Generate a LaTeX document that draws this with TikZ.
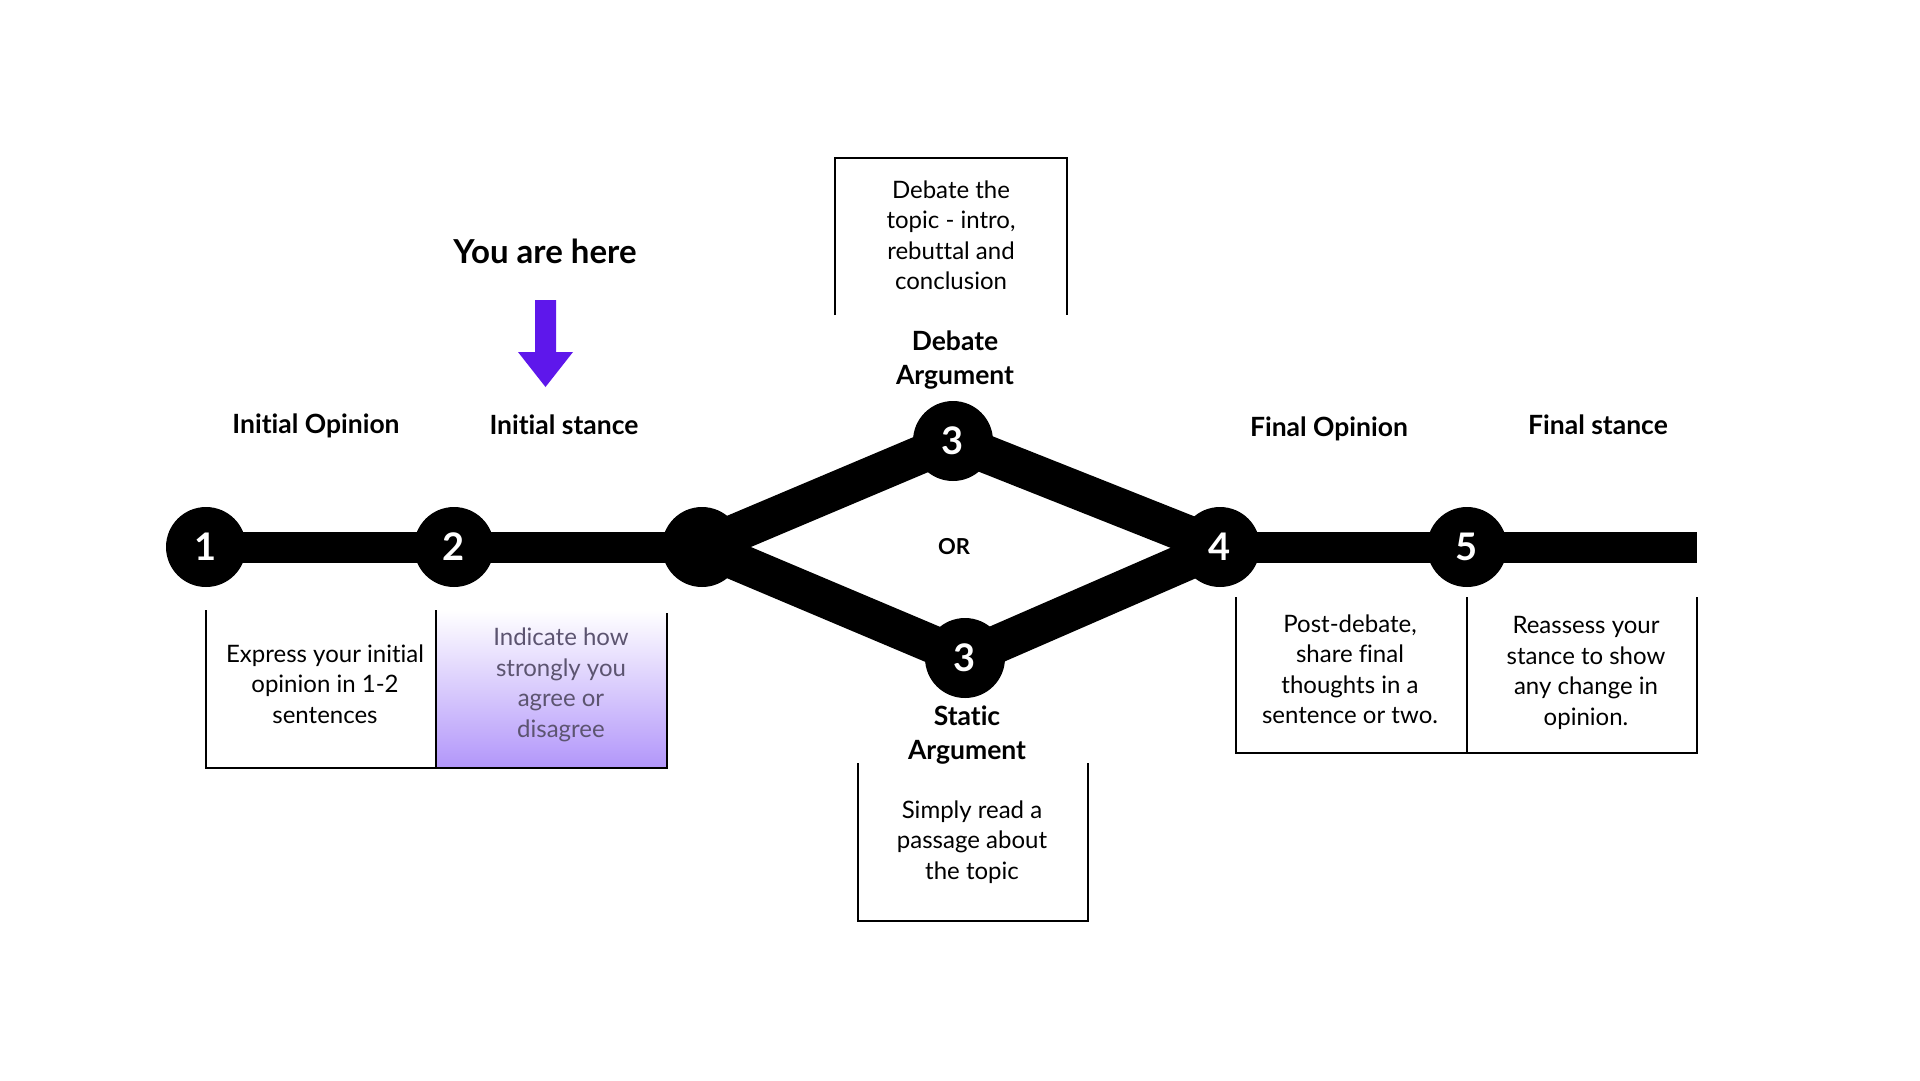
\documentclass[tikz,border=0pt]{standalone}
\usepackage{fontspec}
\setmainfont{Lato}[Ligatures=NoCommon]
\pgfdeclarelayer{canvas}
\pgfdeclarelayer{background}
\pgfsetlayers{canvas,background,main}
\definecolor{herepurple}{HTML}{5E17EB}
\definecolor{lavender}{RGB}{178,150,250}
\definecolor{softtext}{RGB}{92,84,112}
\begin{document}
\begin{tikzpicture}[x=1pt,y=-1pt,
  bar/.style={line width=31pt},
  branch/.style={line width=38pt},
  stepdot/.style={circle, fill=black, minimum size=80pt, inner sep=0pt, text=white,
    font=\bfseries\fontsize{38}{40}\selectfont},
  title/.style={font=\bfseries\fontsize{26.5}{34}\selectfont, align=center, inner sep=0pt},
  body/.style={font=\fontsize{24}{30.5}\selectfont, align=center, inner sep=0pt},
  frame/.style={line width=1.8pt}
]
\begin{pgfonlayer}{canvas}
  \fill[white] (0,0) rectangle (1920,1080);
\end{pgfonlayer}
\useasboundingbox (0,0) rectangle (1920,1080);

% step markers
\node[stepdot] (s1) at (206,547) {1};
\node[stepdot] (s2) at (454,547) {2};
\node[stepdot] (j)  at (702,547) {};
\node[stepdot] (s3a) at (953,441) {3};
\node[stepdot] (s3b) at (965,658) {3};
\node[stepdot] (s4) at (1220,547) {4};
\node[stepdot] (s5) at (1467,547) {5};
\coordinate (barend) at (1697,547);

% timeline and the two branches
\begin{pgfonlayer}{background}
  \draw[bar] (s1.center) -- (s2.center) -- (j.center);
  \draw[bar] (s4.center) -- (s5.center) -- (barend);
  \draw[branch] (j.center) -- (s3a.center) -- (s4.center);
  \draw[branch] (j.center) -- (s3b.center) -- (s4.center);
\end{pgfonlayer}

\node[font=\bfseries\fontsize{22}{24}\selectfont] (or) at (954,547) {OR};

% headings
\node[title] (h1) at (316,426) {Initial Opinion};
\node[title] (h2) at (564,425) {Initial stance};
\node[title] (h3) at (955,360) {Debate\\Argument};
\node[title] (h3b) at (967,735) {Static\\Argument};
\node[title] (h4) at (1329,429) {Final Opinion};
\node[title] (h5) at (1598,425) {Final stance};
\node[font=\bfseries\fontsize{33}{36}\selectfont] (here) at (545,251) {You are here};

% pointer arrow
\fill[herepurple] (535,300) -- (556,300) -- (556,352) -- (573,352) -- (545.5,387)
  -- (518,352) -- (535,352) -- cycle;

% lower-left boxes
\shade[top color=white, bottom color=lavender] (436,610) rectangle (667,768);
\draw[frame] (206,610) -- (206,768) -- (667,768) -- (667,613);
\draw[frame] (436,610) -- (436,768);
\node[body] (b1) at (325,684) {Express your initial\\opinion in 1-2\\sentences};
\node[body, text=softtext] (b2) at (561,685) {Indicate how\\strongly you\\agree or\\disagree};

% debate box
\draw[frame] (835,315) -- (835,158) -- (1067,158) -- (1067,315);
\node[body] (b3) at (951,235) {Debate the\\topic - intro,\\rebuttal and\\conclusion};

% static box
\draw[frame] (858,763) -- (858,921) -- (1088,921) -- (1088,763);
\node[body] (b3b) at (972,842) {Simply read a\\passage about\\the topic};

% lower-right boxes
\draw[frame] (1236,597) -- (1236,753) -- (1697,753) -- (1697,597);
\draw[frame] (1467,597) -- (1467,753);
\node[body] (b4) at (1350,669) {Post-debate,\\share final\\thoughts in a\\sentence or two.};
\node[body] (b5) at (1586,673) {Reassess your\\stance to show\\any change in\\opinion.};
\end{tikzpicture}
\end{document}
